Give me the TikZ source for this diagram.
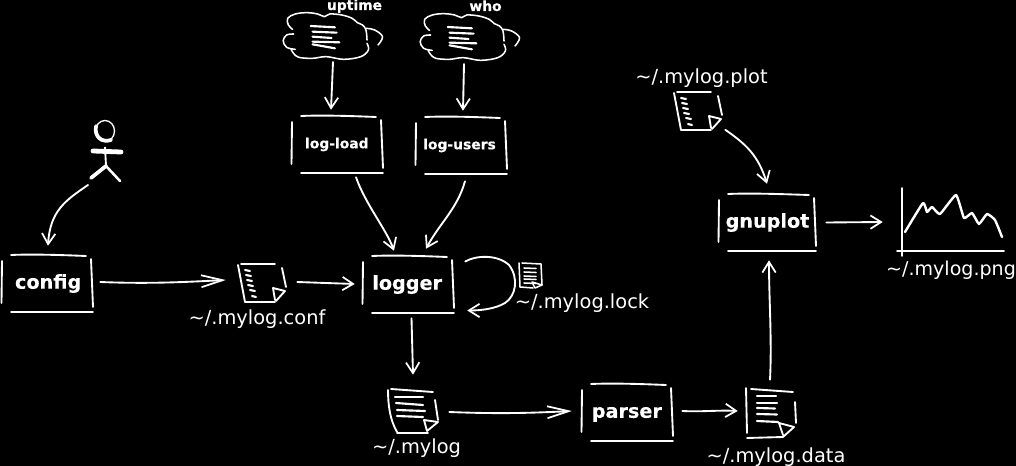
\documentclass[tikz,border=0pt]{standalone}
\usepackage{fontspec}
\setmainfont[BoldFeatures={FakeBold=0.25}]{DejaVu Sans}
\usetikzlibrary{arrows.meta}
\tikzset{
  sk/.style={draw=white,line width=1.4pt,line cap=round,line join=round},
  thinsk/.style={draw=white,line width=1.15pt,line cap=round,line join=round},
  txtsk/.style={draw=white,line width=1.6pt,line cap=round},
  conn/.style={sk,-{Straight Barb[length=8pt,width=10pt,line width=1.3pt]}},
  connlong/.style={sk,-{Straight Barb[length=16pt,width=9pt,line width=1.3pt]}},
  boxnode/.style={inner sep=0pt,text=white,font=\bfseries},
  hidden/.style={inner sep=0pt},
  filelabel/.style={anchor=base,text=white,inner sep=0pt,font=\fontsize{14.55}{16}\selectfont},
  toollabel/.style={anchor=base,text=white,inner sep=0pt,font=\fontsize{10.4}{12}\selectfont\bfseries},
}
\newcommand{\skbox}[6]{% name, left, top, width, size, text
  \node[boxnode,minimum width={#4*0.75pt},minimum height={57*0.75pt},font=\fontsize{#5}{#5}\selectfont\bfseries] (#1) at ({#2+#4/2},{#3+28.5}) {#6};
  \begin{scope}[shift={(#2,#3)}]
    \draw[sk] (0,6) -- (-0.5,48);
    \draw[sk] (9,0) .. controls (30,-1) and (60,0) .. ({#4-7},1);
    \draw[sk] ({#4-2},4) -- (#4,52);
    \draw[sk] (9,57) -- (#4,57);
  \end{scope}}
\newcommand{\skcloud}[3]{% name, dx, dy
  \node[hidden,minimum width={100*0.75pt},minimum height={54*0.75pt}] (#1) at ({333+#2},{32+#3}) {};
  \begin{scope}[shift={(278+#2,#3)},xscale=0.345,yscale=0.3333]
    \draw[thinsk] plot[smooth,tension=.6] coordinates {(42,88)(30,75)(28,55)(50,42)(85,38)(115,42)(135,50)(150,42)(185,45)(215,55)(230,68)(245,75)(255,90)(258,120)};
    \draw[thinsk] plot[smooth,tension=.6] coordinates {(255,85)(280,90)(303,110)(290,135)};
    \draw[thinsk] plot[smooth,tension=.6] coordinates {(258,130)(262,150)(240,170)(190,178)(140,170)(100,175)(60,172)(45,160)(38,148)};
    \draw[thinsk] plot[smooth,tension=.6] coordinates {(45,102)(25,105)(15,122)(25,142)(50,148)};
    \draw[txtsk] (95,78) -- (165,82);
    \draw[txtsk] (100,95) -- (170,98);
    \draw[txtsk] (100,110) -- (155,114);
    \draw[txtsk] (100,125) -- (178,127);
    \draw[txtsk] (100,133) -- (165,145);
  \end{scope}}
\newcommand{\skslantfile}[3]{% name, dx, dy: the slanted file with short ticks
  \node[hidden,minimum width={48*0.75pt},minimum height={38*0.75pt}] (#1) at ({262+#2},{283+#3}) {};
  \begin{scope}[shift={(#2,#3)}]
    \draw[sk] (238,265) -- (245,302) -- (275,302);
    \draw[sk] (241,264) -- (275,264);
    \draw[sk] (282,268) -- (286,287);
    \draw[sk] (276,301) -- (285,291) -- (273,288) -- (275,300);
    \draw[txtsk] (245,270) -- (250,271);
    \draw[txtsk] (246,275) -- (251,276);
    \draw[txtsk] (247,280) -- (252,281);
    \draw[txtsk] (248,285) -- (253,286);
    \draw[txtsk] (250,290) -- (255,291);
    \draw[txtsk] (252,296) -- (256,297);
  \end{scope}}
\begin{document}
\begin{tikzpicture}[x=0.75pt,y=-0.75pt]
\useasboundingbox (0,0) rectangle (1016,466);
\fill[black] (0,0) rectangle (1016,466);

% boxes
\skbox{config}{2}{255}{91}{14.4}{\hspace{1pt}config}
\skbox{logload}{292}{116}{91}{10.4}{\hspace{-1pt}log-load}
\skbox{logusers}{416}{117}{91}{10.4}{\hspace{-3pt}log-users}
\skbox{logger}{363}{256}{91}{14.4}{\hspace{-2pt}logger}
\skbox{parser}{582}{384}{91}{14.4}{\hspace{-1pt}\raisebox{0pt}[.76em][.21em]{parser}}
\skbox{gnuplot}{719}{194}{97}{14.4}{gnuplot}

% clouds
\skcloud{uptime}{0}{0}
\skcloud{who}{137}{1}
\node[toollabel] (uptimelabel) at (354.5,10) {uptime};
\node[toollabel] (wholabel) at (485.5,11) {who};

% actor
\node[hidden,minimum width={30*0.75pt},minimum height={62*0.75pt}] (actor) at (105,150) {};
\draw[draw=white,line width=1pt] (105,131) ellipse [x radius=9.5,y radius=10.5];
\draw[draw=white,line width=2.8pt,line cap=round] (96,126) .. controls (94,137) and (102,143) .. (111,140);
\draw[draw=white,line width=1.4pt] (105,147) -- (106,166);
\draw[draw=white,line width=3.6pt,line cap=round] (93,151) -- (121,152);
\draw[draw=white,line width=2.8pt,line cap=round] (91,178) -- (106,166);
\draw[draw=white,line width=1.9pt,line cap=round] (106,166) -- (120,181);

% files
\skslantfile{conffile}{0}{0}
\skslantfile{plotfile}{436}{-172}
\node[filelabel] (conflabel) at (257,325) {\char`~/.mylog.conf};
\node[filelabel] (plotlabel) at (701.5,84) {\char`~/.mylog.plot};

\node[hidden,minimum width={24*0.75pt},minimum height={26*0.75pt}] (lockfile) at (531,275) {};
\draw[thinsk] (519,263) -- (520,287) -- (533,288);
\draw[thinsk] (522,263) -- (541,264) -- (542,285);
\draw[thinsk] (542,285) -- (535,288) -- (532,282) -- (542,285);
\foreach \yy in {268,272,276,279,283} {\draw[thinsk] (524,\yy) -- (536,\yy+0.5);}
\node[filelabel] (locklabel) at (582,309) {\char`~/.mylog.lock};

\node[hidden,minimum width={50*0.75pt},minimum height={44*0.75pt}] (mylogfile) at (413,411) {};
\draw[sk] (388,390) .. controls (388,405) and (390,420) .. (397,432);
\draw[sk] (397,433) -- (428,433);
\draw[sk] (391,389) -- (433,392);
\draw[sk] (435,400) -- (438,420);
\draw[sk] (427,431) -- (438,422) -- (424,420) -- (427,431);
\draw[txtsk] (395,397) -- (423,397);
\draw[txtsk] (396,403) -- (423,405);
\draw[txtsk] (397,410) -- (425,411);
\draw[txtsk] (397,416) -- (423,417);
\node[filelabel] (myloglabel) at (416.5,453) {\char`~/.mylog};

\node[hidden,minimum width={50*0.75pt},minimum height={50*0.75pt}] (datafile) at (771,413) {};
\draw[sk] (746,388) -- (747,433);
\draw[sk] (751,389) -- (793,392);
\draw[sk] (795,402) -- (796,423);
\draw[sk] (747,438) -- (783,437);
\draw[sk] (783,437) -- (794,427) -- (779,423) -- (783,435);
\draw[txtsk] (757,396) -- (776,396);
\draw[txtsk] (757,403) -- (777,403);
\draw[txtsk] (757,408) -- (775,408.5);
\draw[txtsk] (757,414) -- (777,414.5);
\draw[txtsk] (757,421) -- (778,422);
\node[filelabel] (datalabel) at (776,462) {\char`~/.mylog.data};

% chart
\node[hidden,minimum width={108*0.75pt},minimum height={68*0.75pt}] (chart) at (950,222) {};
\draw[sk] (902,188) -- (902,256);
\draw[sk] (897,251) -- (1004,251);
\draw[draw=white,line width=1.8pt,line join=round,line cap=round] plot[smooth,tension=.25] coordinates {(905,232)(923,203)(927,212)(932,207)(940,214)(956,195)(964,218)(972,213)(979,224)(987,214)(995,220)(1002,237)};
\node[filelabel,font=\fontsize{14.3}{16}\selectfont] (pnglabel) at (951,276) {\char`~/.mylog.png};

% connectors
\draw[conn] ([shift={(-17,35)}]actor.center) .. controls +(-22,15) and +(2,-35) .. ([shift={(0.5,-9)}]config.north);
\draw[connlong] ([shift={(7,-1.5)}]config.east) .. controls +(50,2) and +(-40,2) .. ([shift={(-12,-3)}]conffile.west);
\draw[conn] ([shift={(11,-1)}]conffile.east) -- ([shift={(-8,-0.5)}]logger.west);
\draw[conn] ([shift={(18.5,4)}]logload.south) .. controls +(10,28) and +(-8,-22) .. ([shift={(-14.5,-5)}]logger.north);
\draw[conn] ([shift={(3.5,7)}]logusers.south) .. controls +(-8,28) and +(14,-26) .. ([shift={(17.5,-7)}]logger.north);
\draw[conn] ([shift={(0,30)}]uptime.center) -- ([shift={(-6.5,-6)}]logload.north);
\draw[conn] ([shift={(-6,31)}]who.center) -- ([shift={(1.5,-6)}]logusers.north);
\draw[conn] ([shift={(11,-23)}]logger.east) .. controls +(10,-6) and +(-12,-11) .. (509,265) .. controls +(10,13) and +(11,-7) .. (505,303) .. controls +(-10,6) and +(13,0) .. ([shift={(13,26)}]logger.east);
\draw[conn] ([shift={(3,5)}]logger.south) -- ([shift={(0,-14)}]mylogfile.north);
\draw[connlong] ([shift={(11,1)}]mylogfile.east) .. controls +(50,2) and +(-40,2) .. ([shift={(-10,-1.5)}]parser.west);
\draw[conn] ([shift={(9,-1.5)}]parser.east) .. controls +(20,1) and +(-20,-1) .. ([shift={(-8,-2)}]datafile.west);
\draw[conn] ([shift={(-1,-8)}]datafile.north) .. controls +(2,-40) and +(0,40) .. ([shift={(1.5,9)}]gnuplot.south);
\draw[conn] ([shift={(3,-0.5)}]plotfile.south east) .. controls +(20,14) and +(-9,-29) .. ([shift={(-0.5,-10)}]gnuplot.north);
\draw[conn] ([shift={(10,0)}]gnuplot.east) -- ([shift={(-13,0)}]chart.west);
\end{tikzpicture}
\end{document}
